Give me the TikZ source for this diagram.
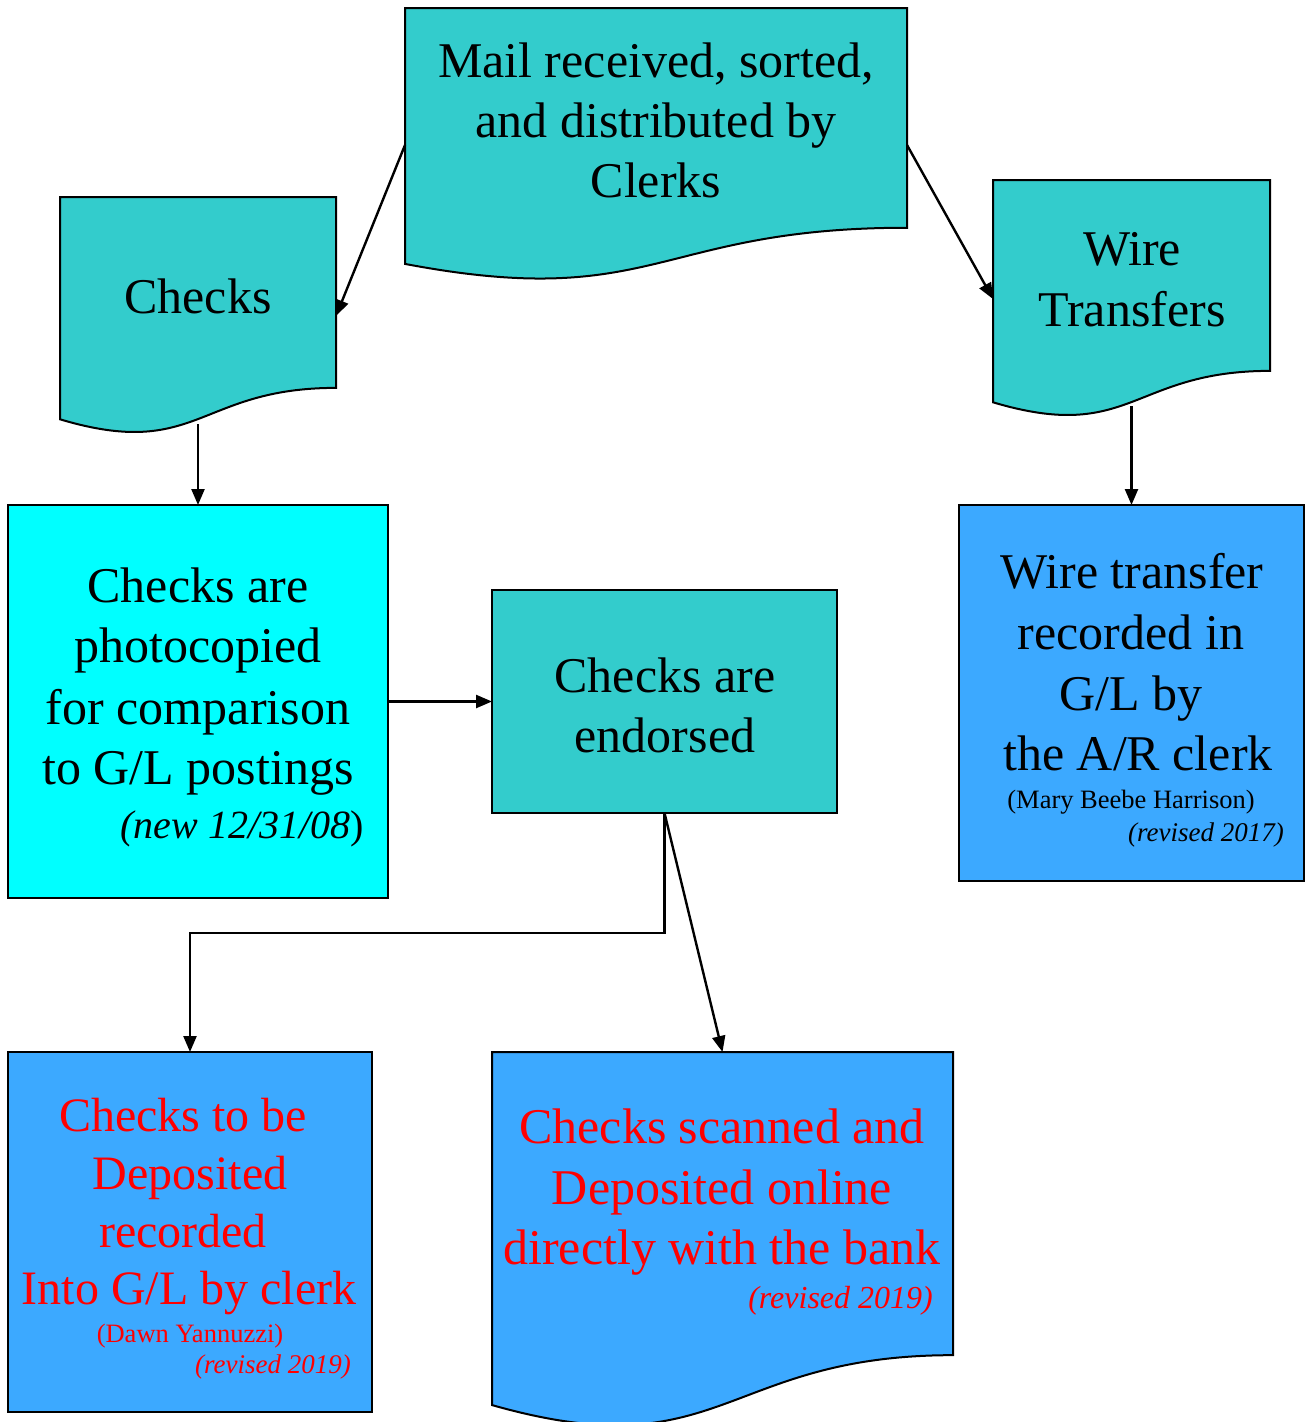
\documentclass[tikz,border=0pt]{standalone}
\usepackage{fontspec}
\setmainfont{Liberation Serif}
\usetikzlibrary{arrows.meta}

\definecolor{teal1}{RGB}{51,204,204}
\definecolor{aqua1}{RGB}{0,255,255}
\definecolor{sky1}{RGB}{60,169,255}
\definecolor{red1}{RGB}{255,0,0}

% document symbol: top-left (#1,#2), width #3, height #4, fill #5
\newcommand\docshape[5]{%
  \pgfmathsetmacro\dxr{#1+#3}%
  \pgfmathsetmacro\dxm{#1+0.5*#3}%
  \pgfmathsetmacro\dyr{#2+0.802*#4}%
  \pgfmathsetmacro\dyc{#2+1.1075*#4}%
  \pgfmathsetmacro\dyl{#2+0.934*#4}%
  \filldraw[shapeline, fill=#5] (#1,#2) -- (\dxr,#2) -- (\dxr,\dyr)
    .. controls (\dxm,\dyr) and (\dxm,\dyc) .. (#1,\dyl) -- cycle;}

\tikzset{
  shapeline/.style={draw=black, line width=2pt},
  frame/.style={draw=none, minimum width=#1, inner sep=0pt, outer sep=0pt},
  boxnode/.style={shapeline, inner sep=0pt, outer sep=0pt},
  big/.style={font=\fontsize{50}{60}\selectfont, anchor=base, inner sep=0pt},
  mid/.style={font=\fontsize{48}{58}\selectfont, anchor=base, inner sep=0pt},
  small/.style={font=\fontsize{26.5}{30}\selectfont, anchor=base, inner sep=0pt},
  note/.style={font=\fontsize{27}{30}\selectfont\itshape, anchor=base east, inner sep=0pt},
  connector/.style={line width=2.4pt, -{Triangle[length=16pt,width=13pt]}},
}

\begin{document}
\begin{tikzpicture}[x=1pt, y=-1pt]
\clip (0,0) rectangle (1307,1422);
\fill[white] (0,0) rectangle (1307,1422);

% ---- document symbols ----
\docshape{405}{8}{502}{274}{teal1}
\docshape{60}{197}{276}{238}{teal1}
\docshape{993}{180}{277}{238}{teal1}
\docshape{492}{1052}{461}{378}{sky1}

\node[frame=502pt, minimum height=274pt] (mail)    at (656,145)   {};
\node[frame=276pt, minimum height=238pt] (checks)  at (198,316)   {};
\node[frame=277pt, minimum height=238pt] (wire)    at (1131.5,299) {};
\node[frame=461pt, minimum height=378pt] (scanned) at (722.5,1241) {};
\coordinate (checksout) at (198,424);
\coordinate (wireout) at (1131.5,406);

% ---- process boxes ----
\node[boxnode, fill=aqua1, minimum width=380pt, minimum height=393pt] (photo)    at (198,701.5)   {};
\node[boxnode, fill=teal1, minimum width=345pt, minimum height=223pt] (endorsed) at (664.5,701.5) {};
\node[boxnode, fill=sky1,  minimum width=345pt, minimum height=376pt] (wirerec)  at (1131.5,693)  {};
\node[boxnode, fill=sky1,  minimum width=364pt, minimum height=360pt] (deposit)  at (190,1232)    {};

% ---- connectors ----
\draw[connector] (mail.west) -- (checks.east);
\draw[connector] (mail.east) -- (wire.west);
\draw[connector] (checksout) -- (photo.north);
\draw[connector] (wireout) -- (wirerec.north);
\draw[connector] (photo.east) -- (endorsed.west);
\draw[connector] (endorsed.south) -- ++(0,120) -| (deposit.north);
\draw[connector] (endorsed.south) -- (scanned.north);

% ---- texts ----
\node[big] (m1) at (656,77)  {Mail received, sorted,};
\node[big] (m2) at (656,137) {and distributed by};
\node[big] (m3) at (656,197) {Clerks};

\node[big] (c1) at (198,313) {Checks};

\node[big] (w1) at (1132,265) {Wire};
\node[big] (w2) at (1132,326) {Transfers};

\node[big] (p1) at (198,602) {Checks are};
\node[big] (p2) at (198,662) {photocopied};
\node[big] (p3) at (198,724) {for comparison};
\node[big] (p4) at (198,784) {to G/L postings};
\node[font=\fontsize{40}{44}\selectfont, anchor=base east, inner sep=0pt] (p5) at (364,838) {\textit{(new 12/31/08})};

\node[big] (e1) at (665,692) {Checks are};
\node[big] (e2) at (665,752) {endorsed};

\node[big] (r1) at (1132,588) {Wire transfer};
\node[big] (r2) at (1131,649) {recorded in};
\node[big] (r3) at (1131,710) {G/L by};
\node[big] (r4) at (1138,770) {the A/R clerk};
\node[small] (r5) at (1131,808) {(Mary Beebe Harrison)};
\node[note] (r6) at (1284,841) {(revised 2017)};

\begin{scope}[text=red1]
\node[mid] (d1) at (183,1131) {Checks to be};
\node[mid] (d2) at (190,1189) {Deposited};
\node[mid] (d3) at (183,1247) {recorded};
\node[mid] (d4) at (189,1304) {Into G/L by clerk};
\node[font=\fontsize{26.5}{30}\selectfont, anchor=base, inner sep=0pt] (d5) at (190,1342) {(Dawn Yannuzzi)};
\node[note] (d6) at (351,1373) {(revised 2019)};

\node[big] (s1) at (722,1143) {Checks scanned and};
\node[big] (s2) at (722,1204) {Deposited online};
\node[big] (s3) at (722,1264) {directly with the bank};
\node[note, font=\fontsize{32}{36}\selectfont\itshape] (s4) at (933,1308) {(revised 2019)};
\end{scope}
\end{tikzpicture}
\end{document}
